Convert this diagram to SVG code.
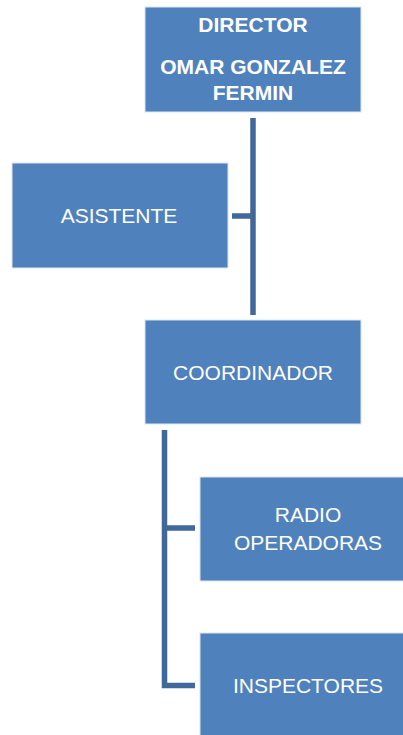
<svg xmlns="http://www.w3.org/2000/svg" width="403" height="735" viewBox="0 0 403 735">
<style>
.box{fill:#4F81BD;stroke:#DCE6F2;stroke-width:1}
.t{fill:#FFFFFF;font-family:"Liberation Sans",Arial,sans-serif;font-size:21px;text-anchor:middle}
.b{font-weight:bold}
.c{stroke:#41689A;stroke-width:5.5;fill:none}
</style>
<rect width="403" height="735" fill="#FFFFFF"/>
<g id="connectors">
<line class="c" x1="253" y1="118" x2="253" y2="315"/>
<line class="c" x1="232" y1="216" x2="253" y2="216"/>
<polyline class="c" points="164.5,430 164.5,685.5 195,685.5"/>
<line class="c" x1="164.5" y1="528" x2="195" y2="528"/>
</g>
<g id="director">
<rect class="box" x="145" y="7" width="216" height="105"/>
<text class="t b" x="253" y="32">DIRECTOR</text>
<text class="t b" x="253" y="74">OMAR GONZALEZ</text>
<text class="t b" x="253" y="100">FERMIN</text>
</g>
<g id="asistente">
<rect class="box" x="12" y="163" width="216" height="105"/>
<text class="t" x="119" y="223">ASISTENTE</text>
</g>
<g id="coordinador">
<rect class="box" x="145" y="320" width="216" height="104"/>
<text class="t" x="253" y="380">COORDINADOR</text>
</g>
<g id="radio">
<rect class="box" x="200" y="477" width="216" height="104"/>
<text class="t" x="308" y="522">RADIO</text>
<text class="t" x="308" y="550">OPERADORAS</text>
</g>
<g id="inspectores">
<rect class="box" x="200" y="633" width="216" height="105"/>
<text class="t" x="308" y="693">INSPECTORES</text>
</g>
</svg>
